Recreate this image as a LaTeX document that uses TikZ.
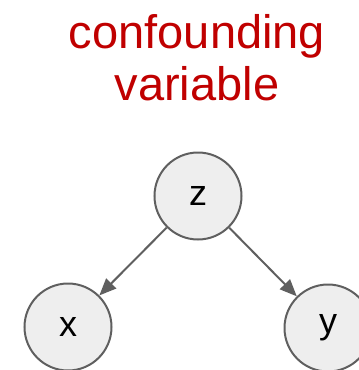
\documentclass[tikz,border=0pt]{standalone}
\usepackage{fontspec}
\setmainfont{Liberation Sans}
\usetikzlibrary{arrows.meta}
\definecolor{titlered}{RGB}{192,0,0}
\definecolor{nodefill}{RGB}{238,238,238}
\definecolor{edgegray}{RGB}{95,95,95}
\tikzset{
  varnode/.style={circle, draw=edgegray, line width=2pt, fill=nodefill,
    minimum size=87pt, inner sep=0pt, font=\fontsize{36}{36}\selectfont},
  causal/.style={draw=edgegray, line width=2pt,
    -{Triangle[length=17pt,width=14pt]}},
}
\begin{document}
\begin{tikzpicture}[x=1pt,y=-1pt]
  \useasboundingbox (0,0) rectangle (359,370);
  % title
  \node[text=titlered, align=center, font=\fontsize{47}{52}\selectfont]
    (title) at (197,58) {confounding\\variable};
  % variables
  \node[varnode] (z) at (198,196) {z};
  \node[varnode] (x) at (68,327) {x};
  \node[varnode] (y) at (328,328) {y};
  % edges
  \draw[causal] (z) -- (x);
  \draw[causal] (z) -- (y);
\end{tikzpicture}
\end{document}
